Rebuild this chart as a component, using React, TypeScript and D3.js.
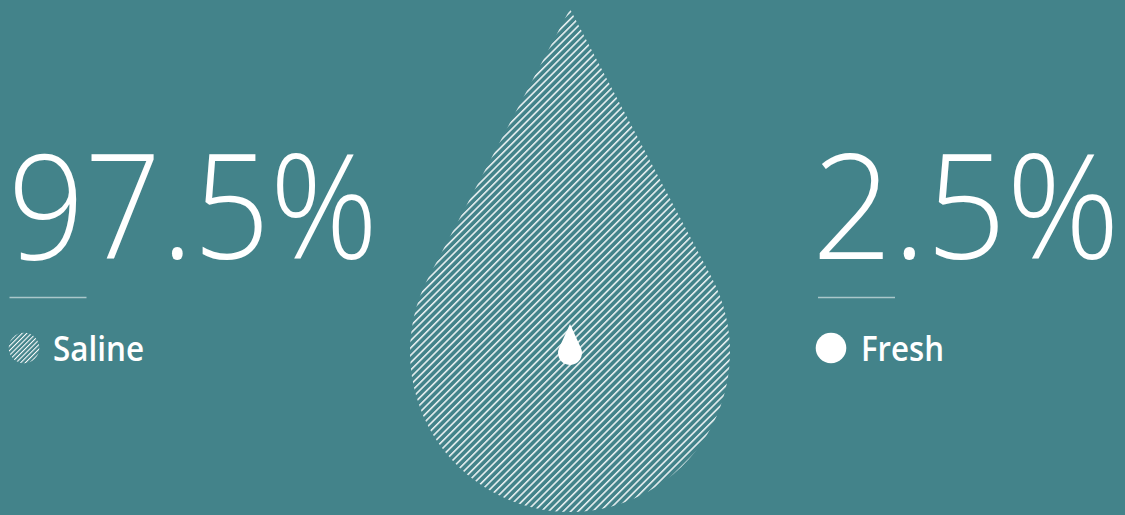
import React from "react";
import * as d3 from "d3";

const categories = ["Saline", "Fresh"];
const values = [97.5, 2.5];

const W = 1125;
const H = 515;
const BG = "#43838a";

// layout per category (not data)
const layout = {
  Saline: { numX: 8, numLen: 370, lineX: 9.5, iconX: 24, labelX: 53, labelLen: 91 },
  Fresh: { numX: 812, numLen: 308, lineX: 818, iconX: 831, labelX: 861, labelLen: 83 },
} as Record<string, any>;

function dropPath(cx: number, cy: number, r: number, tipY: number) {
  const d = cy - tipY;
  const t = Math.asin(r / d);
  const p = d3.path();
  p.moveTo(cx, tipY);
  p.lineTo(cx - r * Math.cos(t), cy - r * Math.sin(t));
  p.arc(cx, cy, r, Math.PI + t, -t, true);
  p.closePath();
  return p.toString();
}

export default function App() {
  const fmt = (v: number) => d3.format(".1f")(v) + "%";
  const big = dropPath(570, 352, 160, 9);
  const small = dropPath(570, 353, 12, 324);
  return (
    <svg
      width={W}
      height={H}
      style={{ position: "absolute", left: 0, top: 0, display: "block" }}
    >
      <defs>
        <pattern id="hatch" patternUnits="userSpaceOnUse" width={5.2} height={10} patternTransform="rotate(45)">
          <line x1={0.8} y1={0} x2={0.8} y2={10} stroke="#fff" strokeWidth={1.4} />
        </pattern>
        <pattern id="hatchSmall" patternUnits="userSpaceOnUse" width={3.3} height={10} patternTransform="rotate(45)">
          <line x1={0.5} y1={0} x2={0.5} y2={10} stroke="#fff" strokeWidth={1.1} />
        </pattern>
      </defs>
      <rect width={W} height={H} fill={BG} />
      <path d={big} fill="url(#hatch)" />
      <path d={small} fill="#fff" />
      {categories.map((c, i) => {
        const L = layout[c];
        return (
          <g key={c}>
            <text
              x={L.numX}
              y={259}
              fill="#fff"
              fontFamily="'Open Sans', sans-serif"
              fontWeight={300}
              fontSize={146}
              textLength={L.numLen}
              lengthAdjust="spacingAndGlyphs"
            >
              {fmt(values[i])}
            </text>
            <line x1={L.lineX} x2={L.lineX + 77} y1={297.5} y2={297.5} stroke="#fff" strokeOpacity={0.55} strokeWidth={1.3} />
            <circle cx={L.iconX} cy={348} r={15.3} fill={i === 0 ? "url(#hatchSmall)" : "#fff"} />
            <text
              x={L.labelX}
              y={361}
              fill="#fff"
              fontFamily="'Open Sans', sans-serif"
              fontWeight={600}
              fontSize={35}
              textLength={L.labelLen}
              lengthAdjust="spacingAndGlyphs"
            >
              {c}
            </text>
          </g>
        );
      })}
    </svg>
  );
}
